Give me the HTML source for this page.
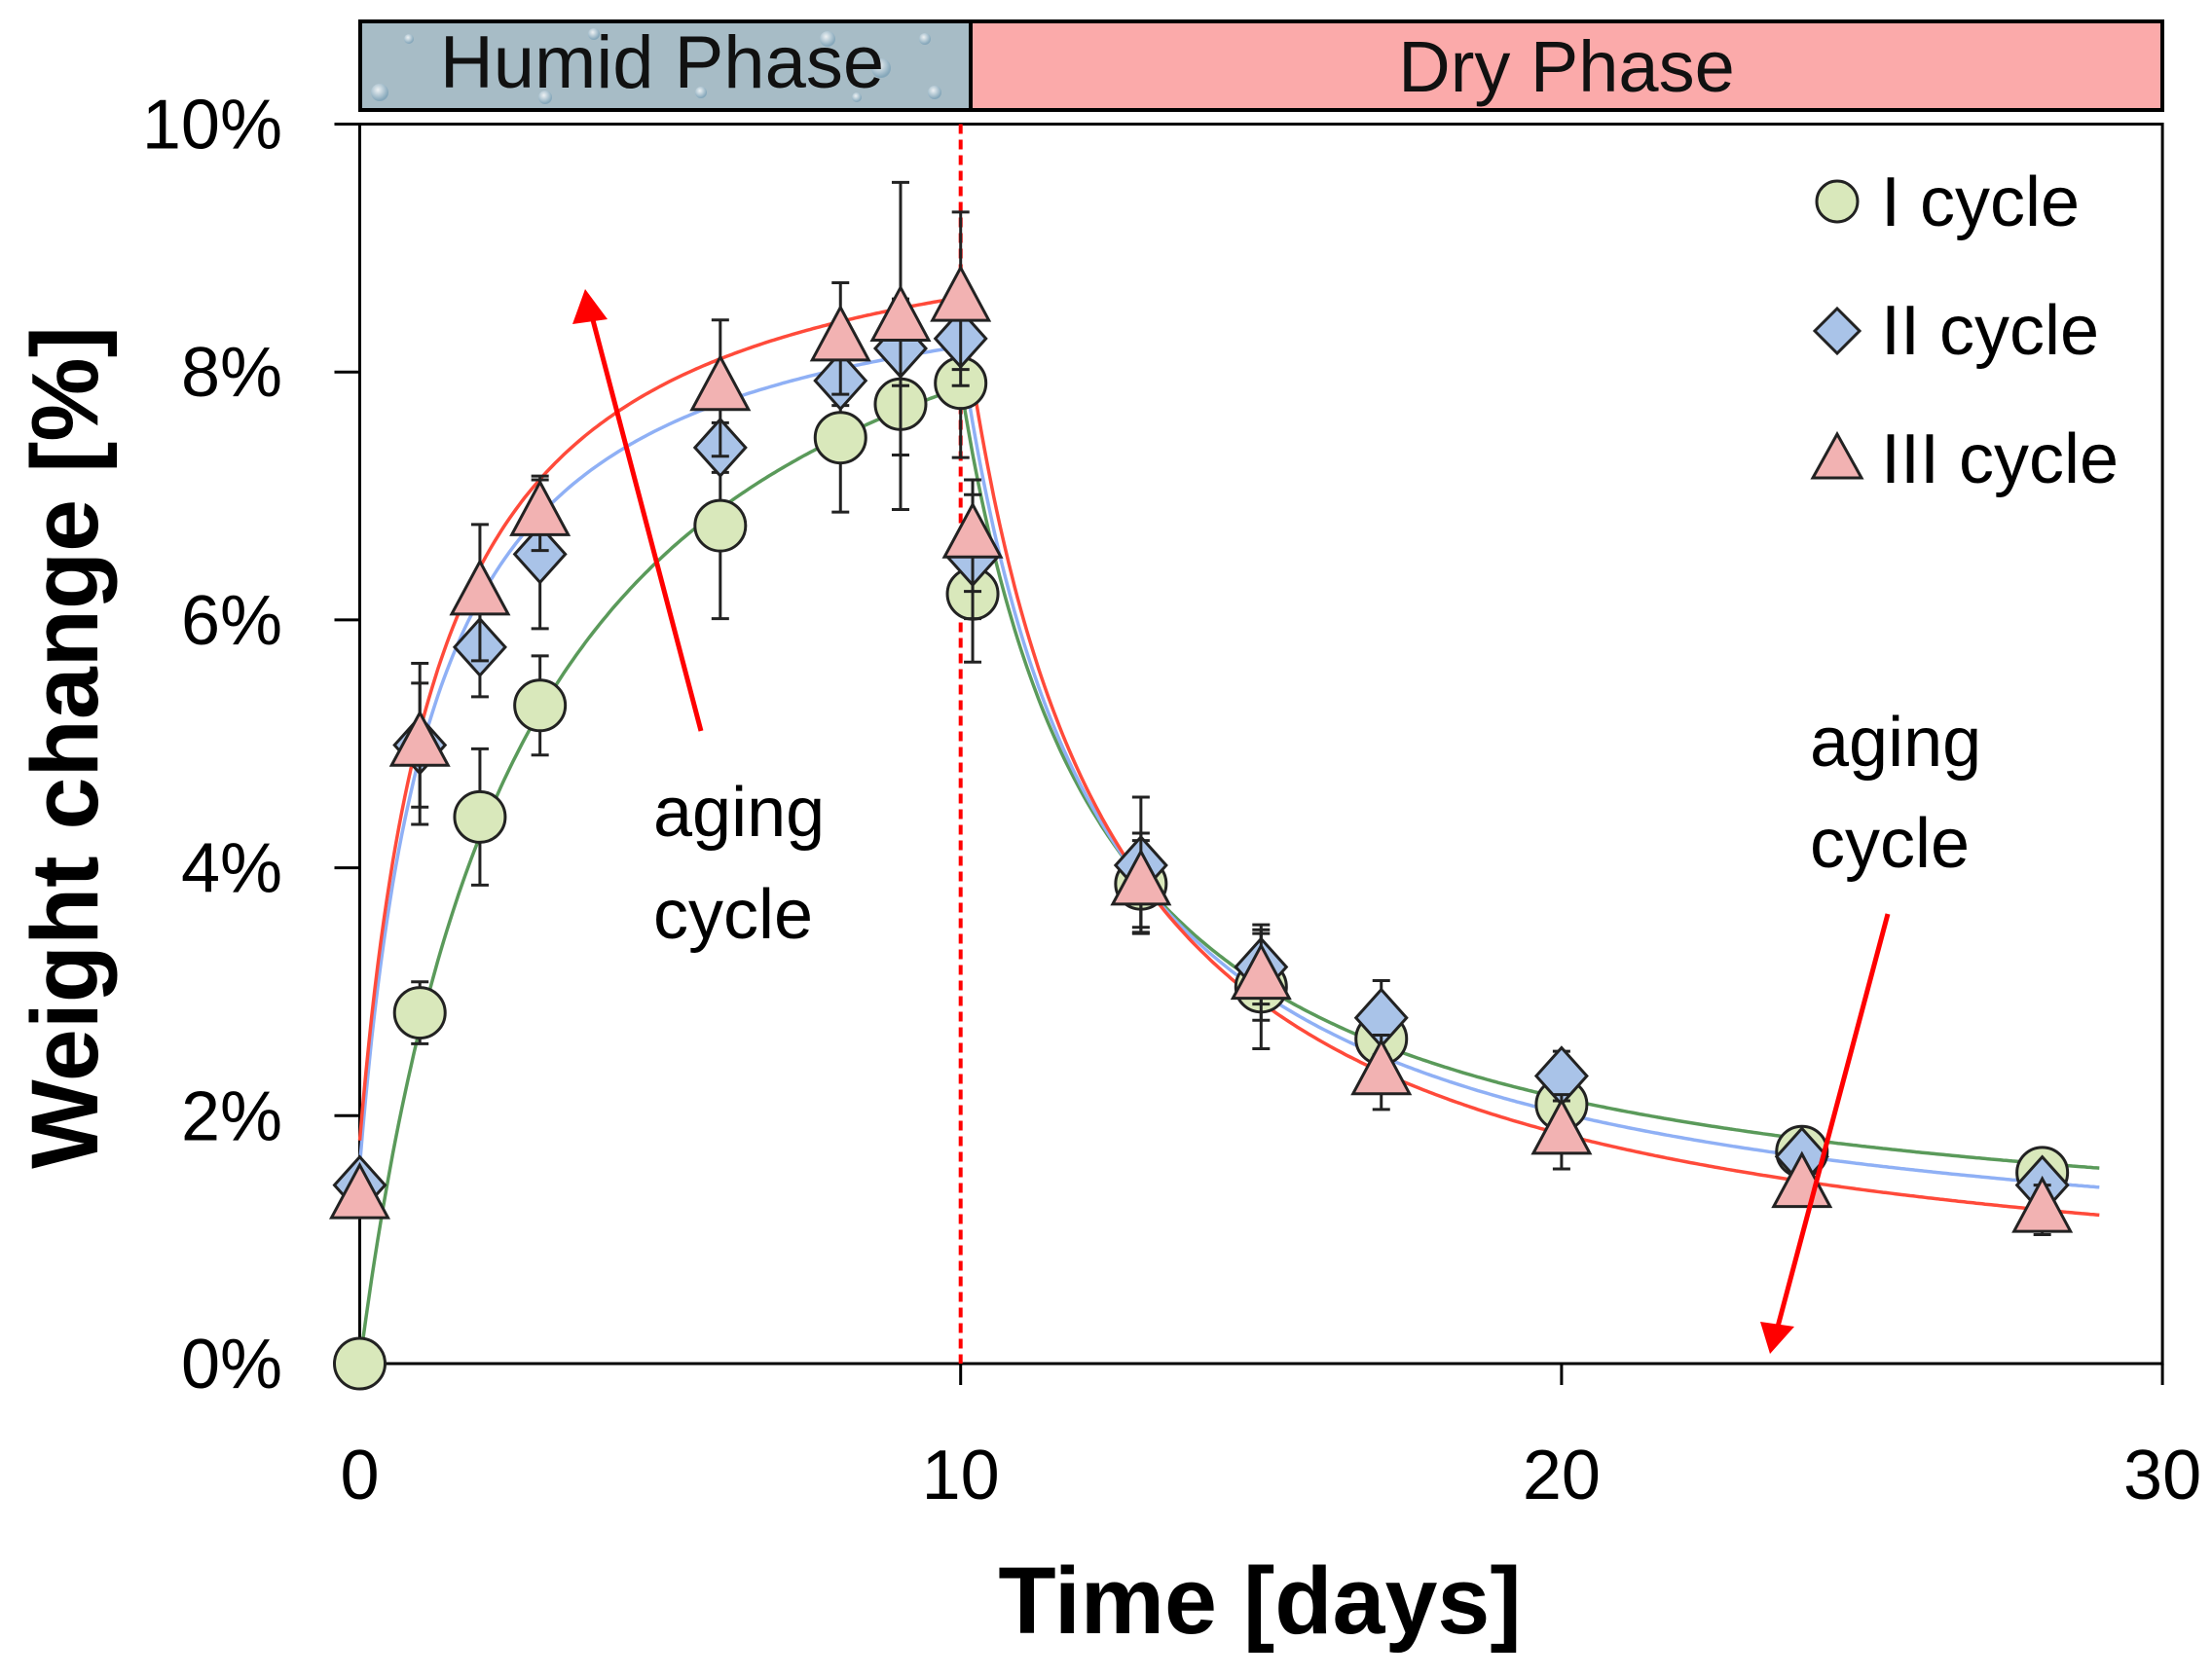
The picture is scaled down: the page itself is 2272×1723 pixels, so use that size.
<!DOCTYPE html>
<html><head><meta charset="utf-8"><style>
html,body{margin:0;padding:0;background:#fff;}
svg{display:block;font-family:"Liberation Sans",sans-serif;}
</style></head><body>
<svg id="chart" width="2272" height="1723" viewBox="0 0 2272 1723">
<defs>
<radialGradient id="drop" cx="40%" cy="35%" r="60%"><stop offset="0" stop-color="#ffffff"/><stop offset="1" stop-color="#7ea3b8"/></radialGradient>
</defs>
<g>
<rect x="370" y="22" width="627" height="91" fill="#a7bcc6" stroke="#000" stroke-width="4"/>
<g fill="url(#drop)" opacity="0.8">
<circle cx="390" cy="95" r="9"/><circle cx="420" cy="40" r="5"/><circle cx="560" cy="100" r="7"/><circle cx="610" cy="35" r="6"/><circle cx="720" cy="95" r="6"/><circle cx="850" cy="40" r="8"/><circle cx="905" cy="70" r="10"/><circle cx="960" cy="95" r="7"/><circle cx="880" cy="100" r="5"/><circle cx="950" cy="40" r="6"/></g>
<text x="680" y="90" font-size="76" text-anchor="middle" fill="#111">Humid Phase</text>
<rect x="997" y="22" width="1224" height="91" fill="#fbaaaa" stroke="#000" stroke-width="4"/>
<text x="1609" y="94" font-size="74" text-anchor="middle" fill="#111">Dry Phase</text>
</g>
<g id="axes"></g>
<g id="curves"></g>
<g id="marks"></g>
<g>
<circle cx="1887" cy="207" r="21" fill="#d9e8bb" stroke="#222" stroke-width="3"/>
<text x="1932" y="232" font-size="72">I cycle</text>
<polygon points="1887,317 1910,340 1887,363 1864,340" fill="#a9c3e8" stroke="#222" stroke-width="3"/>
<text x="1932" y="364" font-size="72">II cycle</text>
<polygon points="1887,446 1912,491 1862,491" fill="#f2b2b2" stroke="#222" stroke-width="3"/>
<text x="1932" y="496" font-size="72">III cycle</text>
</g>
<g>
<text x="671" y="859" font-size="72">aging</text>
<text x="671" y="964" font-size="72">cycle</text>
<line x1="720" y1="751" x2="608" y2="325" stroke="#f00" stroke-width="5"/>
<polygon points="601,297 588,333 624,328" fill="#f00"/>
</g>
<g>
<text x="1859" y="787" font-size="72">aging</text>
<text x="1859" y="891" font-size="72">cycle</text>
<line x1="1939" y1="939" x2="1826" y2="1363" stroke="#f00" stroke-width="5"/>
<polygon points="1818,1391 1808,1358 1843,1363" fill="#f00"/>
</g>
<text x="1294" y="1678" font-size="97" font-weight="bold" text-anchor="middle">Time [days]</text>
<text transform="translate(100,768) rotate(-90)" font-size="97" font-weight="bold" text-anchor="middle">Weight change [%]</text>
</svg>
<script>
const times = [0,1,2,3,6,8,9,10,10.2,13,15,17,20,24,28];
const cycleI   = [0,2.83,4.41,5.31,6.76,7.47,7.74,7.91,6.21,3.87,3.04,2.62,2.09,1.71,1.54];
const cycleII  = [1.44,4.99,5.78,6.53,7.39,7.93,8.19,8.27,6.51,4.02,3.2,2.79,2.32,1.67,1.44];
const cycleIII = [1.35,5.0,6.22,6.86,7.87,8.27,8.43,8.59,6.68,3.88,3.12,2.35,1.87,1.44,1.24];
const errI   = [0,0.25,0.55,0.4,0.75,0.6,0.85,0.6,0.55,0.35,0.5,0.3,0.3,0.1,0.15];
const errII  = [0.1,0.5,0.4,0.6,0.2,0.2,0.3,0.25,0.5,0.55,0.3,0.3,0.2,0.1,0.15];
const errIII = [0.1,0.65,0.55,0.3,0.55,0.45,1.1,0.7,0.45,0.4,0.35,0.3,0.3,0.1,0.2];
const xTicks = [0,10,20,30];
const yTicks = [0,2,4,6,8,10];
// fit params: humid y = y0 + A t/(b+t); dry y = c + D k/(k+t-10)
const humidFitI = [0,10,2.7], humidFitII=[1.6,7.43,1.25], humidFitIII=[1.8,7.71,1.336];
const dryFitI = [0.8,7.1,2.33], dryFitII=[0.6,7.6,2.3], dryFitIII=[0.3,8.3,2.3];

const NS="http://www.w3.org/2000/svg";
const X0=369.5, XS=61.72, Y0=1401, YS=127.35;
const xs=t=>X0+t*XS, ys=v=>Y0-v*YS;
function mk(tag,attrs,parent){const e=document.createElementNS(NS,tag);for(const k in attrs)e.setAttribute(k,attrs[k]);parent.appendChild(e);return e;}
const axes=document.getElementById('axes'), curves=document.getElementById('curves'), marks=document.getElementById('marks');

let plot=mk('rect',{x:xs(0),y:ys(10),width:xs(30)-xs(0),height:ys(0)-ys(10),fill:'none',stroke:'#000','stroke-width':3},axes);


yTicks.forEach(v=>{
  const l=mk('line',{x1:xs(0)-26,x2:xs(0),y1:ys(v),y2:ys(v),stroke:'#000','stroke-width':3},axes);
  
  
  const t=mk('text',{x:290,y:ys(v)+25,'font-size':72,'text-anchor':'end'},axes);
  t.textContent=v+'%';
  
  
});
xTicks.forEach(v=>{
  const l=mk('line',{x1:xs(v),x2:xs(v),y1:ys(0),y2:ys(0)+22,stroke:'#000','stroke-width':3},axes);
  
  
  const t=mk('text',{x:xs(v),y:1540,'font-size':72,'text-anchor':'middle'},axes);
  t.textContent=v;
  
  
});
const dl=mk('line',{x1:xs(10),x2:xs(10),y1:ys(10),y2:ys(0),stroke:'#f00','stroke-width':4,'stroke-dasharray':'10,6'},axes);



function fitPath(h,d,color,name){
  let p='';
  for(let t=0;t<=10;t+=0.05){const v=h[0]+h[1]*t/(h[2]+t);p+=(p?'L':'M')+xs(t).toFixed(1)+','+ys(v).toFixed(1);}
  for(let t=10;t<=29;t+=0.05){const v=d[0]+d[1]*d[2]/(d[2]+t-10);p+='L'+xs(t).toFixed(1)+','+ys(v).toFixed(1);}
  const e=mk('path',{d:p,fill:'none',stroke:color,'stroke-width':3.5},curves);
  
  
}
fitPath(humidFitI,dryFitI,'#5a9a5a','fit-curve-i');
fitPath(humidFitII,dryFitII,'#8fb0f5','fit-curve-ii');
fitPath(humidFitIII,dryFitIII,'#ff4a3a','fit-curve-iii');

function series(vals,errs,shape,fill,name){
  vals.forEach((v,i)=>{
    const x=xs(times[i]),y=ys(v),e=errs[i]*YS;
    if(errs[i]>0){
      const g=mk('path',{d:`M${x},${y-e}V${y+e}M${x-9},${y-e}H${x+9}M${x-9},${y+e}H${x+9}`,stroke:'#222','stroke-width':3,fill:'none'},marks);
      
      
    }
    let m;
    if(shape==='c') m=mk('circle',{cx:x,cy:y,r:26},marks);
    else if(shape==='d') m=mk('polygon',{points:`${x},${y-29} ${x+26},${y} ${x},${y+29} ${x-26},${y}`},marks);
    else m=mk('polygon',{points:`${x},${y-32} ${x+29},${y+22} ${x-29},${y+22}`},marks);
    m.setAttribute('fill',fill);m.setAttribute('stroke','#222');m.setAttribute('stroke-width',3);
    
    
  });
}
series(cycleI,errI,'c','#d9e8bb','cycle-i');
series(cycleII,errII,'d','#a9c3e8','cycle-ii');
series(cycleIII,errIII,'t','#f2b2b2','cycle-iii');
</script>
</body></html>
